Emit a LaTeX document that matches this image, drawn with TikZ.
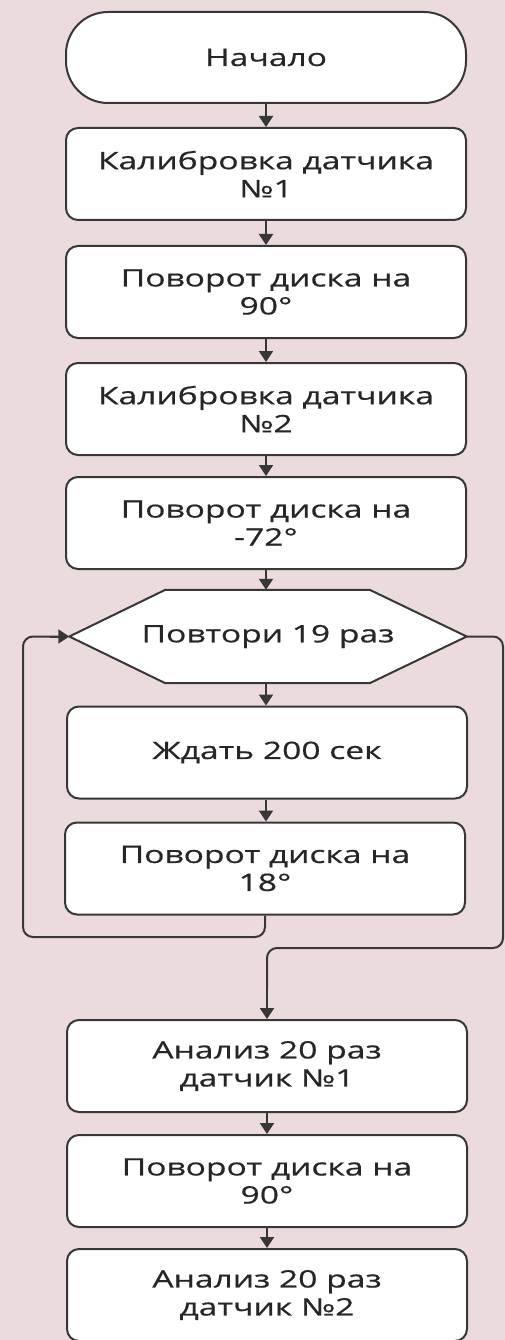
\documentclass[tikz,border=0pt]{standalone}
\usepackage{fontspec}
\setmainfont{Open Sans}[FakeStretch=1.4,FakeBold=0.6]
\usetikzlibrary{arrows.meta,calc}
\definecolor{bgpink}{RGB}{236,219,221}
\definecolor{edge}{RGB}{55,55,55}
\tikzset{
  txt/.style={align=center, font=\fontsize{24}{28}\selectfont, text=black!85},
  base/.style={txt, draw=edge, line width=2pt, fill=white, inner sep=0pt},
  procbox/.style={base, rectangle, rounded corners=12pt, minimum width=400pt, minimum height=92pt},
  termbox/.style={base, rectangle, rounded corners=42pt, minimum width=400pt, minimum height=91pt},
  hexnode/.style={txt, rectangle, draw=none, minimum width=397pt, minimum height=93pt, inner sep=0pt},
  flow/.style={draw=edge, line width=2pt, -{Triangle[length=11pt,width=14pt]}},
  plainline/.style={draw=edge, line width=2pt, rounded corners=10pt},
}
\begin{document}
\begin{tikzpicture}[x=1pt,y=-1pt]
\fill[bgpink] (0,0) rectangle (505,1340);
\useasboundingbox (0,0) rectangle (505,1340);

\node[termbox] (start) at (266,57.5) {Начало};
\node[procbox] (b1) at (266,174) {Калибровка датчика\\№1};
\node[procbox] (b2) at (266,292) {Поворот диска на\\90°};
\node[procbox] (b3) at (266,409) {Калибровка датчика\\№2};
\node[procbox] (b4) at (266,523) {Поворот диска на\\-72°};
\node[hexnode] (loop) at (268,636.5) {};
\draw[edge, line width=2pt, fill=white]
  (loop.west) -- ($(loop.north west)+(96,0)$) -- ($(loop.north east)+(-97,0)$)
  -- (loop.east) -- ($(loop.south east)+(-97,0)$) -- ($(loop.south west)+(96,0)$) -- cycle;
\node[hexnode] (looptext) at (loop.center) {Повтори 19 раз};
\node[procbox] (b5) at (267,752.5) {Ждать 200 сек};
\node[procbox] (b6) at (265,868.5) {Поворот диска на\\18°};
\node[procbox] (b7) at (267,1066) {Анализ 20 раз\\датчик №1};
\node[procbox] (b8) at (267,1181) {Поворот диска на\\90°};
\node[procbox] (b9) at (267,1295) {Анализ 20 раз\\датчик №2};

\draw[flow] (start.south) -- (b1.north);
\draw[flow] (b1.south) -- (b2.north);
\draw[flow] (b2.south) -- (b3.north);
\draw[flow] (b3.south) -- (b4.north);
\draw[flow] (b4.south) -- (b4.south |- loop.north);
\draw[flow] (b4.south |- loop.south) -- (b4.south |- b5.north);
\draw[flow] (b4.south |- b5.south) -- (b4.south |- b6.north);
\draw[flow] (b7.south) -- (b8.north);
\draw[flow] (b8.south) -- (b9.north);

\coordinate (lb) at (23,937);
\draw[plainline] (b6.south) -- (b6.south |- lb) -- (lb) -- (23,636.5) -- (60,636.5);
\draw[flow] (50,636.5) -- (loop.west);

\coordinate (rb) at (503,948);
\draw[plainline] (loop.east) -- (loop.east -| rb) -- (rb) -- (b7.north |- rb) -- ($(b7.north)+(0,-30)$);
\draw[flow] ($(b7.north)+(0,-40)$) -- (b7.north);
\end{tikzpicture}
\end{document}
